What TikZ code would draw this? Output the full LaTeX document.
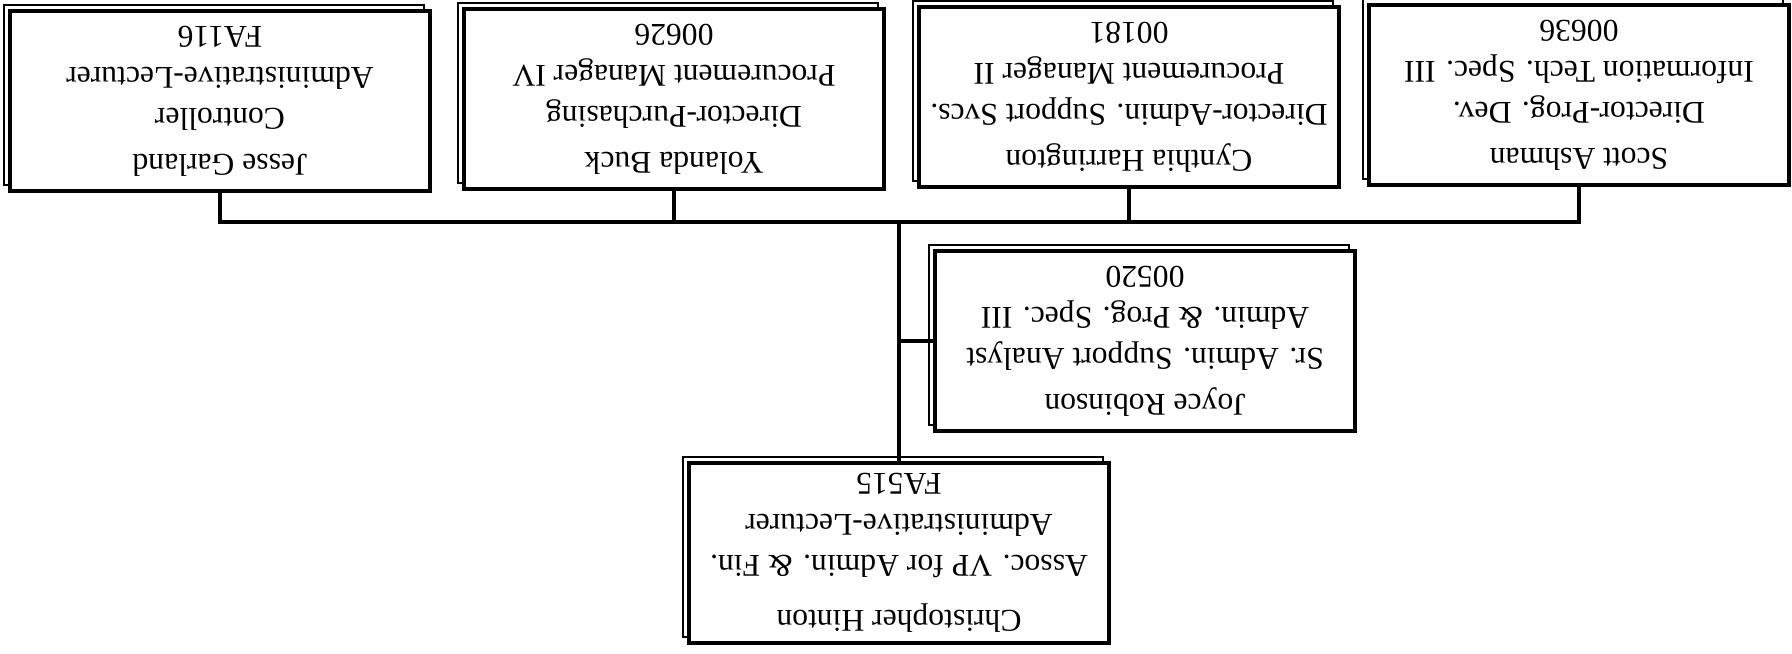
\documentclass[tikz,border=0pt]{standalone}
\usepackage{fontspec}
\setmainfont{Liberation Serif}
\usetikzlibrary{shadows}

\tikzset{
  staff/.style={draw, line width=2.2pt, fill=white, inner sep=0pt,
    minimum width=8.4cm, minimum height=3.6cm, align=center,
    font=\fontsize{18}{23.3}\selectfont,
    copy shadow={shadow xshift=-0.12cm, shadow yshift=0.12cm, draw=black, fill=white, line width=1pt}},
  link/.style={line width=2pt}
}

\begin{document}
\begin{tikzpicture}[x=0.02cm, y=-0.02cm, rotate=180, transform shape]
\fill[white] (0,0) rectangle (1792,653);
\useasboundingbox (0,0) rectangle (1792,653);
\draw (893,100) node[staff] (hinton) {Christopher Hinton\\[8pt] Assoc. VP for Admin. \& Fin.\\ Administrative-Lecturer\\ FA515};
	\draw (647,312) node[staff] (robinson) {Joyce Robinson\\[3pt] Sr. Admin. Support Analyst\\ Admin. \& Prog. Spec. III\\ 00520};
	\coordinate (bus) at (893,431);
		\draw (213,558) node[staff] (ashman) {Scott Ashman\\[3pt] Director-Prog. Dev.\\ Information Tech. Spec. III\\ 00636};
		\draw (663,556) node[staff] (harrington) {Cynthia Harrington\\[3pt] Director-Admin. Support Svcs.\\ Procurement Manager II\\ 00181};
		\draw (1118,554) node[staff] (buck) {Yolanda Buck\\[3pt] Director-Purchasing\\ Procurement Manager IV\\ 00626};
		\draw (1572,552) node[staff] (garland) {Jesse Garland\\[3pt] Controller\\ Administrative-Lecturer\\ FA116};

\draw[link] (hinton.south) |- (robinson.east);
\draw[link] (hinton.south) -- (bus);
\draw[link] (bus) -| (ashman.north);
\draw[link] (bus) -| (harrington.north);
\draw[link] (bus) -| (buck.north);
\draw[link] (bus) -| (garland.north);
\end{tikzpicture}
\end{document}
